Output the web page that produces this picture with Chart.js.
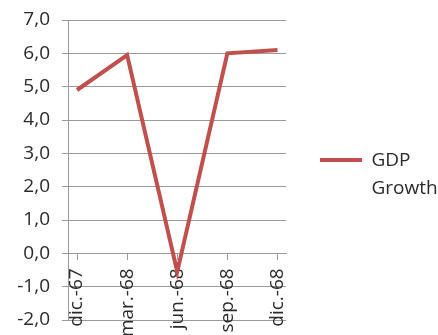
<!DOCTYPE html>
<html>
<head>
<meta charset="utf-8">
<script src="https://cdn.jsdelivr.net/npm/chart.js@4.4.1/dist/chart.umd.min.js"></script>
<style>
  html, body { margin: 0; padding: 0; background: #fff; }
  #wrap { width: 438px; height: 335px; }
</style>
</head>
<body>
<div id="wrap"><canvas id="gdpChart"></canvas></div>
<script>
const quarters = ["dic.-67", "mar.-68", "jun.-68", "sep.-68", "dic.-68"];
const gdpGrowth = [4.9, 5.95, -0.55, 6.0, 6.1];
const yTicks = [-2, -1, 0, 1, 2, 3, 4, 5, 6, 7];
const legendLines = ["GDP", "Growth"];

const textColor = "#2a2a2a";
const gridColor = "#9a9a9a";
const font = { family: "Open Sans", size: 19 };

// legend width is fixed so the plot ends where the reference does
const legendWidth = {
  id: "legendWidth",
  beforeLayout(chart) {
    const lg = chart.legend;
    if (lg && !lg._fixed) {
      const fit = lg.fit.bind(lg);
      lg.fit = function () {
        fit();
        this.width = 152;
      };
      lg._fixed = true;
    }
  }
};

const ctx = document.getElementById("gdpChart").getContext("2d");

const gdpChart = new Chart(ctx, {
  type: "line",
  data: {
    datasets: [{
      label: legendLines.join(" "),
      data: gdpGrowth.map((v, i) => ({ x: i, y: v })),
      borderColor: "#C0504D",
      backgroundColor: "#C0504D",
      borderWidth: 4,
      pointRadius: 0,
      tension: 0,
      fill: false
    }]
  },
  options: {
    responsive: true,
    maintainAspectRatio: false,
    animation: false,
    layout: {
      padding: { top: 20, bottom: 15, left: 0, right: 0 }
    },
    plugins: {
      tooltip: { enabled: false },
      legend: {
        position: "right",
        // empty title only nudges the legend item down
        title: { display: true, text: "", font: { size: 1 }, padding: { top: 17, bottom: 0 } },
        labels: {
          color: textColor,
          font: { family: "Open Sans", size: 19, lineHeight: 1.5 },
          usePointStyle: true,
          pointStyle: "line",
          pointStyleWidth: 42,
          padding: 34,
          generateLabels(chart) {
            const items = Chart.defaults.plugins.legend.labels.generateLabels(chart);
            items.forEach(it => { it.text = legendLines; });
            return items;
          }
        }
      }
    },
    scales: {
      x: {
        type: "linear",
        position: { y: 0 },
        min: -0.18,
        max: 4.17,
        afterBuildTicks(scale) {
          scale.ticks = quarters.map((_, i) => ({ value: i }));
        },
        afterFit(scale) {
          scale.paddingLeft = 0;
          scale.paddingRight = 0;
        },
        grid: {
          drawOnChartArea: false,
          drawTicks: true,
          tickLength: 6,
          color: gridColor
        },
        border: { color: gridColor },
        ticks: {
          autoSkip: false,
          minRotation: 90,
          maxRotation: 90,
          padding: 9,
          color: textColor,
          font: font,
          callback: (v) => quarters[v]
        }
      },
      y: {
        min: -2,
        max: 7,
        afterBuildTicks(scale) {
          scale.ticks = yTicks.map(v => ({ value: v }));
        },
        afterFit(scale) {
          scale.width = 68;
          scale.paddingTop = 0;
          scale.paddingBottom = 0;
        },
        grid: {
          color: gridColor,
          tickLength: 6
        },
        border: { color: gridColor },
        ticks: {
          padding: 12,
          color: textColor,
          font: font,
          callback: (v) => v.toFixed(1).replace(".", ",")
        }
      }
    }
  },
  plugins: [legendWidth]
});
</script>
</body>
</html>
